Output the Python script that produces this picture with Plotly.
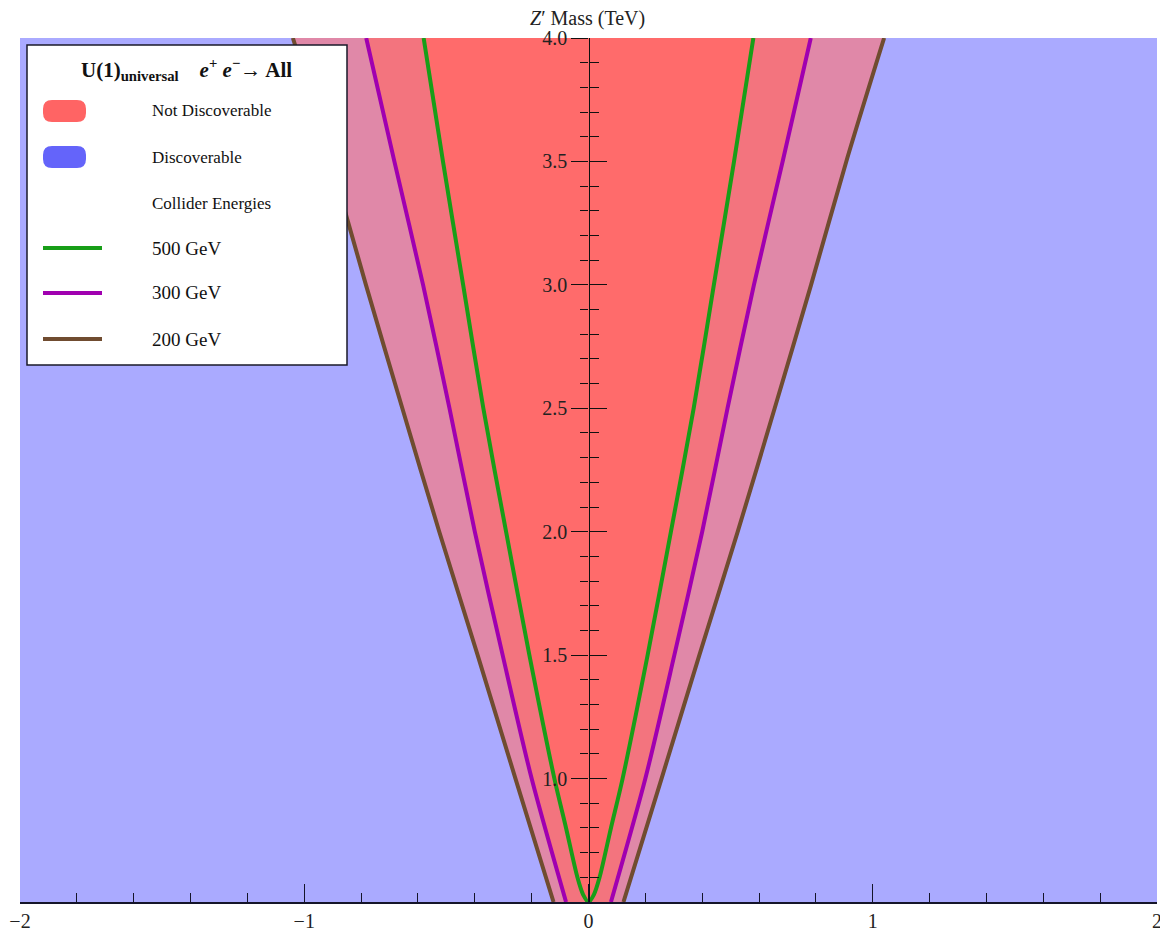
import numpy as np
import plotly.graph_objects as go

# ---------------- data ----------------
# Z' mass (TeV) vs. half-width of the "not discoverable" region
mass_500 = [0.50, 0.53, 0.60, 0.80, 1.00, 1.50, 2.00, 2.50, 3.00, 3.50, 4.00]
half_500 = [0.000, 0.019, 0.039, 0.079, 0.120, 0.208, 0.290, 0.370, 0.441, 0.512, 0.580]

mass_300 = [0.50, 1.00, 1.50, 2.00, 2.50, 3.00, 3.50, 4.00]
half_300 = [0.079, 0.200, 0.302, 0.400, 0.489, 0.582, 0.683, 0.782]

mass_200 = [0.50, 1.00, 1.50, 2.00, 2.50, 3.00, 3.50, 4.00]
half_200 = [0.123, 0.257, 0.390, 0.525, 0.655, 0.783, 0.907, 1.040]

energy_labels = ["500 GeV", "300 GeV", "200 GeV"]
line_colors = ["rgb(24,158,24)", "rgb(160,0,176)", "rgb(112,76,48)"]
fill_colors = ["rgb(255,107,107)", "rgb(243,116,126)", "rgb(224,136,168)"]
bg_color = "rgb(170,170,255)"

x_ticks = [-2, -1, 0, 1, 2]
x_tick_text = ["\u22122", "\u22121", "0", "1", "2"]
y_ticks = [1.0, 1.5, 2.0, 2.5, 3.0, 3.5, 4.0]
y_tick_text = ["1.0", "1.5", "2.0", "2.5", "3.0", "3.5", "4.0"]

SERIF = "Liberation Serif, Times New Roman, serif"
AXC = "#15152a"

fig = go.Figure()

curves = [(mass_200, half_200, fill_colors[2]),
          (mass_300, half_300, fill_colors[1]),
          (mass_500, half_500, fill_colors[0])]
for m, w, fc in curves:
    m = np.array(m); w = np.array(w)
    xs = np.concatenate([-w[::-1], w])
    ys = np.concatenate([m[::-1], m])
    fig.add_trace(go.Scatter(x=xs, y=ys, mode="lines", fill="toself", fillcolor=fc,
                             line=dict(width=0), hoverinfo="skip", showlegend=False))

for (m, w), col, name in zip([(mass_500, half_500), (mass_300, half_300), (mass_200, half_200)],
                             line_colors, energy_labels):
    m = np.array(m); w = np.array(w)
    if w[0] == 0:
        xs = list(-w[::-1]) + list(w[1:])
        ys = list(m[::-1]) + list(m[1:])
    else:
        xs = list(-w[::-1]) + [None] + list(w)
        ys = list(m[::-1]) + [None] + list(m)
    fig.add_trace(go.Scatter(x=xs, y=ys, mode="lines",
                             line=dict(color=col, width=4, shape="spline", smoothing=0.8),
                             name=name, showlegend=False))

# dummy trace for the second (overlaid) y axis carrying the right-hand tick halves
fig.add_trace(go.Scatter(x=[None], y=[None], yaxis="y2", showlegend=False, hoverinfo="skip"))

# ---------------- layout ----------------
L, T, W, H = 20, 38, 1137, 864


def px(x):
    return (x - L) / W


def py(y):
    return (T + H - y) / H


minor_y = [round(v, 2) for v in np.arange(0.6, 4.0, 0.1) if abs(v * 2 - round(v * 2)) > 1e-6]
minor_x = [round(v, 2) for v in np.arange(-1.8, 2.0, 0.2) if abs(v - round(v)) > 1e-6]

fig.update_layout(
    width=1160, height=932,
    margin=dict(l=L, r=1160 - L - W, t=T, b=932 - T - H, autoexpand=False),
    paper_bgcolor="white", plot_bgcolor=bg_color,
    font=dict(family=SERIF, size=19, color="#222"),
    xaxis=dict(range=[-2, 2], showgrid=False, zeroline=False, showline=True, linecolor=AXC, linewidth=1.5,
               automargin=False,
               ticks="inside", ticklen=18, tickwidth=1.3, tickcolor=AXC, ticklabeloverflow="allow",
               tickvals=x_ticks, ticktext=x_tick_text, tickfont=dict(size=20, family=SERIF),
               minor=dict(tickvals=minor_x, ticks="inside", ticklen=9, tickwidth=1.3, tickcolor=AXC)),
    yaxis=dict(range=[0.5, 4.0], anchor="free", position=0.5, showgrid=False, zeroline=False,
               showline=True, linecolor="#111", linewidth=1.3, automargin=False,
               ticks="outside", ticklen=17, tickwidth=1.2, tickcolor="#111",
               tickvals=y_ticks, ticktext=y_tick_text, tickfont=dict(size=20, family=SERIF),
               minor=dict(tickvals=minor_y, ticks="outside", ticklen=8, tickwidth=1.2, tickcolor="#111")),
    yaxis2=dict(range=[0.5, 4.0], overlaying="y", anchor="free", position=0.5, side="left",
                showgrid=False, zeroline=False, showline=False, showticklabels=False, automargin=False,
                ticks="inside", ticklen=17, tickwidth=1.2, tickcolor="#111", tickvals=y_ticks,
                minor=dict(tickvals=minor_y, ticks="inside", ticklen=9, tickwidth=1.2, tickcolor="#111")),
    showlegend=False,
)

# axis title at top
fig.add_annotation(xref="paper", yref="paper", x=px(587), y=py(18), xanchor="center", yanchor="middle",
                   text="<i>Z</i>\u2032 Mass (TeV)", showarrow=False, font=dict(family=SERIF, size=20, color="#222"))

# ---------------- legend box ----------------
shapes = []
shapes.append(dict(type="rect", xref="paper", yref="paper", x0=px(27), x1=px(347), y0=py(45), y1=py(365),
                   fillcolor="white", line=dict(color="#1a1a2a", width=1.5), layer="above"))


def rounded(x0, x1, yc, h, r, color):
    y0, y1 = yc - h / 2, yc + h / 2
    pts = (f"M {px(x0 + r)},{py(y0)} L {px(x1 - r)},{py(y0)} Q {px(x1)},{py(y0)} {px(x1)},{py(y0 + r)} "
           f"L {px(x1)},{py(y1 - r)} Q {px(x1)},{py(y1)} {px(x1 - r)},{py(y1)} "
           f"L {px(x0 + r)},{py(y1)} Q {px(x0)},{py(y1)} {px(x0)},{py(y1 - r)} "
           f"L {px(x0)},{py(y0 + r)} Q {px(x0)},{py(y0)} {px(x0 + r)},{py(y0)} Z")
    return dict(type="path", xref="paper", yref="paper", path=pts, fillcolor=color,
                line=dict(width=0), layer="above")


shapes.append(rounded(43, 86, 111, 22, 9, "rgb(255,100,100)"))
shapes.append(rounded(43, 86, 157, 22, 9, "rgb(100,100,250)"))
for yc, col in zip([248, 293, 339], line_colors):
    shapes.append(dict(type="line", xref="paper", yref="paper", x0=px(43), x1=px(102), y0=py(yc), y1=py(yc),
                       line=dict(color=col, width=4), layer="above"))
fig.update_layout(shapes=shapes)

fig.add_annotation(xref="paper", yref="paper", x=px(186), y=py(69), xanchor="center", yanchor="middle",
                   text="<b>U(1)<sub>universal</sub></b>\u2002\u2002<b><i>e</i><sup>+</sup> <i>e</i><sup>\u2212</sup>\u2192 All</b>",
                   showarrow=False, font=dict(family=SERIF, size=21, color="#111"))
entries = [("Not Discoverable", 111, 17), ("Discoverable", 157, 17), ("Collider Energies", 203, 17),
           (energy_labels[0], 248, 19), (energy_labels[1], 293, 19), (energy_labels[2], 339, 19)]
for txt, yc, fs in entries:
    fig.add_annotation(xref="paper", yref="paper", x=px(150), y=py(yc), xanchor="left", yanchor="middle",
                       text=txt, showarrow=False, font=dict(family=SERIF, size=fs, color="#111"))

fig.write_html("out.html", config={"displayModeBar": False},
               post_script="document.body.style.margin='0';document.body.style.overflow='hidden';")
